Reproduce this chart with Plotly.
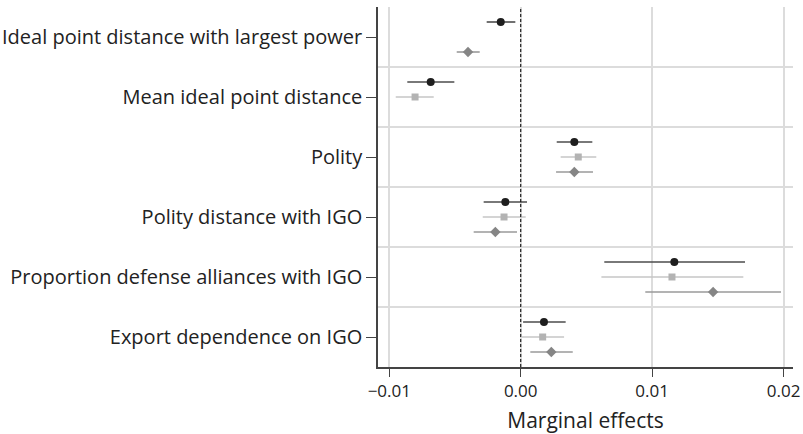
import plotly.graph_objects as go

categories = [
    "Ideal point distance with largest power",
    "Mean ideal point distance",
    "Polity",
    "Polity distance with IGO",
    "Proportion defense alliances with IGO",
    "Export dependence on IGO",
]

# Series 1 (black circles)
s1_est = [-0.00152, -0.00685, 0.00408, -0.00117, 0.01169, 0.00177]
s1_lo = [-0.00259, -0.00863, 0.00274, -0.00282, 0.00636, 0.00018]
s1_hi = [-0.00041, -0.00505, 0.00545, 0.00048, 0.01707, 0.00342]

# Series 2 (light gray squares) - none for first category
s2_est = [None, -0.00804, 0.00438, -0.00127, 0.01151, 0.00167]
s2_lo = [None, -0.00951, 0.00304, -0.00289, 0.00614, 0.00010]
s2_hi = [None, -0.00662, 0.00575, 0.00038, 0.01694, 0.00330]

# Series 3 (gray diamonds) - none for second category
s3_est = [-0.00401, None, 0.00408, -0.00193, 0.01464, 0.00233]
s3_lo = [-0.00487, None, 0.00269, -0.00358, 0.00948, 0.00073]
s3_hi = [-0.00312, None, 0.00550, -0.00028, 0.01981, 0.00396]

x_tickvals = [-0.01, 0.0, 0.01, 0.02]
x_ticktext = ["\u22120.01", "0.00", "0.01", "0.02"]

series = [
    (s1_est, s1_lo, s1_hi, -0.25, "circle", "#1e1e1e", "#4d4d4d", 8),
    (s2_est, s2_lo, s2_hi, 0.0, "square", "#b3b3b3", "#c6c6c6", 7),
    (s3_est, s3_lo, s3_hi, 0.25, "diamond", "#858585", "#9a9a9a", 8),
]

fig = go.Figure()
for est, lo, hi, off, sym, mc, lc, ms in series:
    xs, ys, ep, em = [], [], [], []
    for i, (e, l, h) in enumerate(zip(est, lo, hi)):
        if e is None:
            continue
        xs.append(e)
        ys.append(i + off)
        ep.append(h - e)
        em.append(e - l)
    fig.add_trace(go.Scatter(
        x=xs, y=ys, mode="markers",
        marker=dict(symbol=sym, color=mc, size=ms, line=dict(width=0)),
        error_x=dict(type="data", array=ep, arrayminus=em, symmetric=False,
                     color=lc, thickness=1.6, width=0),
        showlegend=False,
    ))

fig.add_vline(x=0, line=dict(color="#111111", width=1.1, dash="3px,2px"))

font_family = "Open Sans, Noto Sans, sans-serif"
fig.update_layout(
    width=803, height=434,
    margin=dict(l=378, r=10, t=7, b=67),
    plot_bgcolor="white", paper_bgcolor="white",
    font=dict(family=font_family, size=17, color="#222222"),
    xaxis=dict(
        range=[-0.01086, 0.02072],
        tickvals=x_tickvals, ticktext=x_ticktext,
        showgrid=True, gridcolor="#dcdcdc", gridwidth=1.5,
        zeroline=False, automargin=False,
        showline=True, linecolor="#444444", linewidth=1.5,
        ticks="outside", ticklen=8, tickcolor="#444444", tickwidth=1.2,
        tickfont=dict(size=17),
        title=dict(text="Marginal effects", font=dict(size=21), standoff=12),
    ),
    yaxis=dict(
        range=[5.5, -0.5],
        tickvals=list(range(len(categories))), ticktext=categories,
        showgrid=False, zeroline=False, automargin=False,
        showline=True, linecolor="#444444", linewidth=1.5,
        ticks="outside", ticklen=10, tickcolor="#444444", tickwidth=1.2,
        tickfont=dict(size=20),
        minor=dict(tickvals=[0.5, 1.5, 2.5, 3.5, 4.5], showgrid=True,
                   gridcolor="#dcdcdc", gridwidth=1.5, ticks=""),
    ),
)

fig.write_html("out.html", config={"displayModeBar": False},
               post_script="document.body.style.margin='0';")
